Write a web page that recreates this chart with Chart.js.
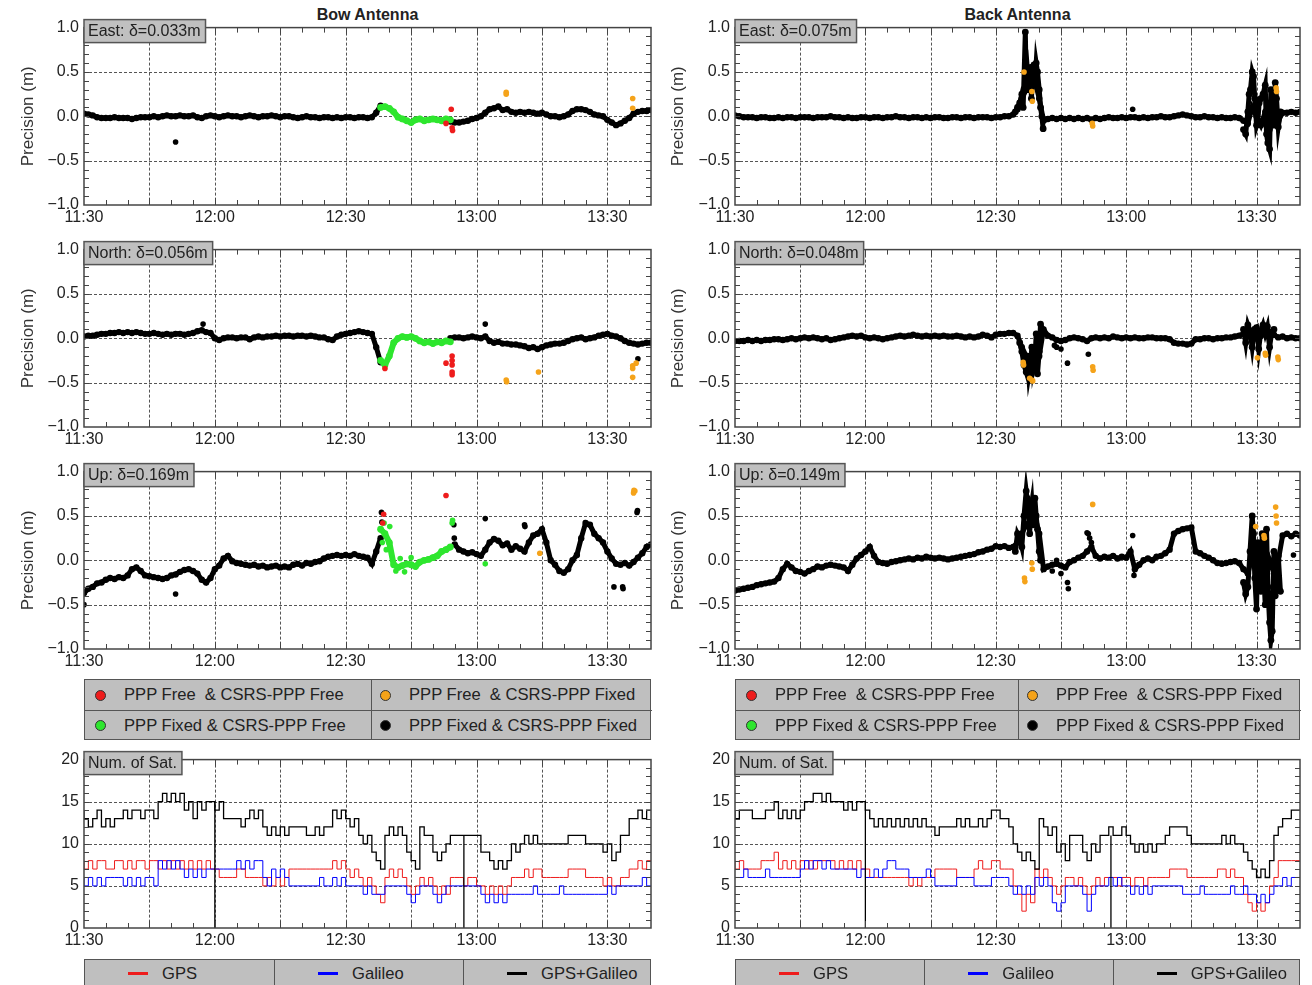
<!DOCTYPE html>
<html>
<head>
<meta charset="utf-8">
<script src="https://cdn.jsdelivr.net/npm/chart.js@4.4.1/dist/chart.umd.min.js"></script>
<style>
  body { margin: 0; width: 1312px; height: 985px; overflow: hidden; position: relative; background: #fff;
         font-family: "Liberation Sans", Arial, sans-serif; color: #222; }
  canvas { position: absolute; }
  .title { position: absolute; top: 6px; font-size: 16px; font-weight: bold; text-align: center; line-height: 18px; }
  .legend { position: absolute; background: #bfbfbf; border: 1.5px solid #555; box-sizing: border-box; }
  .cell { position: absolute; box-sizing: border-box; font-size: 16.6px; white-space: pre; display: flex; align-items: center; }
  .dot { width: 11px; height: 11px; border-radius: 50%; border: 1px solid #333; box-sizing: border-box; margin-right: 18px; }
  .swatch { width: 20px; height: 3px; margin-right: 14px; }
</style>
</head>
<body>
<div class="title" style="left:84px;width:567px">Bow Antenna</div>
<div class="title" style="left:735px;width:565px">Back Antenna</div>
<script>
// time axis: minutes after 11:30
const minutes = Array.from({ length: 131 }, (_, i) => i);
const labelMinutes = [0, 30, 60, 90, 120];
const timeLabels = ["11:30", "12:00", "12:30", "13:00", "13:30"];
const gridMinutes = [15, 30, 45, 60, 75, 90, 105, 120];
const precisionGrid = [-0.5, 0, 0.5];
const satGrid = [5, 10, 15];

const pointCategories = ["PPP Free  & CSRS-PPP Free", "PPP Free  & CSRS-PPP Fixed", "PPP Fixed & CSRS-PPP Free", "PPP Fixed & CSRS-PPP Fixed"];
const satCategories = ["GPS", "Galileo", "GPS+Galileo"];

// ---- Bow antenna ----
const greenMinutes = [68, 69, 70, 71, 72, 73, 74, 75, 76, 77, 78, 79, 80, 81, 82, 83, 84];

const bowEastFixed = [
  0.03, 0.02, 0.01, -0.01, -0.02, -0.02, -0.02, -0.01, -0.02, -0.02,
  -0.02, -0.03, -0.02, -0.01, -0.01, -0.01, 0.00, -0.01, 0.00, 0.01,
  0.00, 0.00, 0.01, 0.00, 0.00, 0.01, -0.01, -0.02, 0.00, 0.01,
  0.00, -0.01, 0.00, 0.01, 0.00, 0.00, -0.01, 0.00, 0.01, 0.00,
  -0.01, 0.00, 0.00, 0.01, 0.00, -0.01, 0.00, 0.00, -0.01, -0.02,
  -0.01, 0.00, -0.01, -0.01, -0.02, -0.01, -0.01, -0.02, -0.01, -0.02,
  -0.01, -0.01, -0.02, -0.01, -0.01, -0.02, -0.01, 0.04, 0.12, null,
  null, null, null, null, null, null, null, null, null, null,
  null, null, null, null, -0.06, -0.07, -0.07, -0.06, -0.05, -0.03,
  -0.02, 0.00, 0.04, 0.08, 0.09, 0.11, 0.07, 0.08, 0.05, 0.04,
  0.05, 0.04, 0.05, 0.04, 0.03, 0.04, 0.02, 0.00, 0.00, -0.01,
  0.00, 0.02, 0.06, 0.08, 0.08, 0.07, 0.05, 0.02, 0.01, 0.00,
  -0.04, -0.07, -0.10, -0.08, -0.05, -0.02, 0.03, 0.05, 0.06, 0.06,
  0.07
];
const bowEastGreen = [0.10, 0.11, 0.09, 0.05, -0.01, -0.03, -0.05, -0.07, -0.04, -0.03, -0.05, -0.04, -0.03, -0.04, -0.05, -0.03, -0.04];
const bowEastRedT = [83, 84.2, 84.4, 84.5];
const bowEastRedY = [-0.08, 0.08, -0.13, -0.16];
const bowEastOrangeT = [96.8, 96.8, 125.8, 125.8];
const bowEastOrangeY = [0.27, 0.25, 0.20, 0.09];
const bowEastSingleT = [21];
const bowEastSingleY = [-0.29];

const bowNorthFixed = [
  0.02, 0.03, 0.03, 0.04, 0.05, 0.05, 0.06, 0.06, 0.07, 0.06,
  0.07, 0.06, 0.07, 0.06, 0.05, 0.05, 0.06, 0.05, 0.04, 0.05,
  0.04, 0.05, 0.05, 0.04, 0.05, 0.06, 0.08, 0.09, 0.07, 0.06,
  0.00, -0.02, 0.00, 0.01, 0.01, 0.00, 0.01, 0.01, -0.01, 0.01,
  0.02, 0.01, 0.02, 0.02, 0.03, 0.02, 0.03, 0.03, 0.02, 0.03,
  0.03, 0.02, 0.03, 0.02, 0.01, 0.01, -0.01, -0.02, 0.02, 0.04,
  0.05, 0.06, 0.07, 0.08, 0.07, 0.06, 0.05, -0.10, -0.27, null,
  null, null, null, null, null, null, null, null, null, null,
  null, null, null, null, 0.00, 0.01, 0.01, 0.00, 0.01, 0.02,
  0.01, 0.00, 0.02, -0.03, -0.05, -0.04, -0.06, -0.06, -0.07, -0.07,
  -0.08, -0.09, -0.11, -0.10, -0.12, -0.10, -0.08, -0.07, -0.06, -0.06,
  -0.05, -0.03, -0.01, 0.00, 0.01, -0.01, 0.00, 0.01, 0.03, 0.04,
  0.05, 0.03, 0.02, 0.00, -0.03, -0.05, -0.06, -0.07, -0.06, -0.05,
  -0.05
];
const bowNorthGreen = [-0.25, -0.30, -0.20, -0.05, 0.00, 0.02, 0.01, 0.02, 0.00, -0.03, -0.05, -0.04, -0.06, -0.04, -0.05, -0.03, -0.04];
const bowNorthRedT = [69, 83, 84.4, 84.4, 84.4, 84.4, 84.4];
const bowNorthRedY = [-0.34, -0.28, -0.20, -0.25, -0.30, -0.38, -0.41];
const bowNorthOrangeT = [96.8, 96.9, 104.2, 125.8, 125.8, 125.8, 126.6];
const bowNorthOrangeY = [-0.47, -0.49, -0.38, -0.31, -0.34, -0.44, -0.28];
const bowNorthSingleT = [27.3, 92, 127];
const bowNorthSingleY = [0.16, 0.16, -0.23];

const bowUpFixed = [
  -0.37, -0.32, -0.30, -0.26, -0.25, -0.22, -0.20, -0.21, -0.19, -0.20,
  -0.17, -0.10, -0.08, -0.12, -0.17, -0.18, -0.19, -0.20, -0.21, -0.20,
  -0.17, -0.16, -0.13, -0.11, -0.10, -0.12, -0.15, -0.22, -0.25, -0.20,
  -0.10, -0.06, 0.02, 0.05, -0.01, -0.03, -0.04, -0.05, -0.06, -0.05,
  -0.07, -0.06, -0.08, -0.07, -0.06, -0.08, -0.07, -0.08, -0.05, -0.04,
  -0.06, -0.03, -0.04, -0.02, -0.01, 0.02, 0.04, 0.05, 0.06, 0.05,
  0.06, 0.05, 0.07, 0.05, 0.04, 0.03, -0.04, 0.10, 0.25, null,
  null, null, null, null, null, null, null, null, null, null,
  null, null, null, null, null, 0.18, 0.12, 0.10, 0.08, 0.09,
  0.07, 0.05, 0.12, 0.20, 0.24, 0.22, 0.17, 0.19, 0.12, 0.16,
  0.13, 0.10, 0.20, 0.28, 0.30, 0.35, 0.20, 0.00, -0.05, -0.12,
  -0.14, -0.10, 0.00, 0.06, 0.25, 0.42, 0.40, 0.30, 0.25, 0.20,
  0.10, 0.02, -0.04, -0.05, -0.03, -0.06, -0.02, 0.03, 0.08, 0.15,
  0.18
];
const bowUpGreen = [0.35, 0.30, 0.20, -0.05, -0.08, -0.06, -0.04, -0.05, -0.07, -0.02, 0.00, 0.01, 0.03, 0.05, 0.10, 0.12, 0.15];
const bowUpGreenExtraT = [68.4, 68.8, 69.3, 70.1, 71.5, 72.5, 73.5, 75, 84.4, 84.5, 92];
const bowUpGreenExtraY = [0.20, 0.42, 0.12, 0.38, -0.12, 0.02, -0.13, 0.03, 0.42, 0.45, -0.04];
const bowUpRedT = [68.5, 68.7, 83];
const bowUpRedY = [0.42, 0.52, 0.73];
const bowUpOrangeT = [104.5, 126, 126.1, 126.3];
const bowUpOrangeY = [0.08, 0.76, 0.79, 0.78];
const bowUpSingleT = [0, 21, 68.2, 68.3, 84.8, 84.9, 92, 101, 101.1, 121.5, 123.5, 123.6, 126.8, 126.9];
const bowUpSingleY = [-0.50, -0.38, 0.54, 0.43, 0.40, 0.25, 0.47, 0.40, 0.38, -0.30, -0.30, -0.32, 0.54, 0.56];

// ---- Back antenna ----
const backEastFixed = [
  0.01, 0.00, -0.01, -0.01, -0.01, -0.02, -0.01, -0.01, -0.02, -0.02,
  -0.01, -0.02, -0.01, -0.01, -0.02, -0.01, -0.01, -0.01, -0.02, -0.01,
  -0.01, -0.01, 0.00, -0.01, -0.01, -0.02, -0.01, -0.02, -0.02, -0.01,
  -0.01, -0.02, -0.01, -0.01, -0.02, -0.01, -0.01, 0.00, -0.01, -0.01,
  -0.02, -0.01, -0.01, -0.02, -0.01, -0.02, -0.01, -0.01, -0.02, -0.02,
  -0.01, -0.01, -0.02, -0.01, -0.01, -0.02, -0.01, -0.01, -0.01, -0.02,
  -0.01, -0.01, 0.00, 0.00, 0.02, 0.08, 0.20, 0.30, 0.35, 0.40,
  0.20, -0.05, -0.03, -0.02, -0.03, -0.02, -0.03, -0.02, -0.03, -0.02,
  -0.03, -0.02, -0.04, -0.02, -0.03, -0.02, -0.01, -0.02, -0.02, -0.01,
  -0.02, -0.01, -0.01, -0.02, -0.01, -0.02, -0.01, -0.01, 0.00, -0.01,
  -0.01, 0.00, 0.01, 0.02, 0.01, 0.00, -0.01, -0.01, 0.00, -0.01,
  -0.01, -0.02, -0.01, -0.02, -0.02, -0.01, -0.02, -0.05, -0.08, 0.10,
  0.00, -0.10, 0.05, -0.15, 0.00, -0.05, 0.04, 0.04, 0.05, 0.04,
  0.05
];
const backEastBurstT = [64.5, 65, 65.5, 66, 66.3, 66.8, 67, 67.3, 67.6, 68, 68.2, 68.5, 68.8, 69, 69.3, 69.6, 70, 70.3, 70.6, 70.9, 71,
  117, 117.5, 118, 118.3, 118.6, 119, 119.3, 119.6, 120, 120.3, 120.6, 121, 121.5, 122, 122.3, 122.6, 123, 123.3, 123.6, 124, 124.3, 124.6, 125, 125.5];
const backEastBurstY = [0.05, 0.10, 0.15, 0.25, 0.10, 0.95, 0.40, 0.50, 0.30, 0.55, 0.20, 0.45, 0.58, 0.35, 0.60, 0.50, 0.30, 0.10, 0.00, -0.14, null,
  -0.15, -0.20, 0.05, 0.25, 0.30, 0.50, 0.45, 0.20, -0.10, -0.05, 0.15, 0.20, 0.25, 0.35, -0.20, -0.30, -0.37, 0.30, 0.10, -0.10, 0.38, 0.20, -0.12, 0.05];
const backEastSingleT = [91.5];
const backEastSingleY = [0.08];
const backEastOrangeT = [66.5, 68.3, 68.4, 82.2, 82.3, 124.5, 124.6];
const backEastOrangeY = [0.50, 0.28, 0.17, -0.08, -0.11, 0.32, 0.28];

const backNorthFixed = [
  -0.03, -0.03, -0.03, -0.02, -0.03, -0.02, -0.03, -0.02, -0.02, -0.01,
  -0.01, -0.02, -0.01, 0.00, -0.01, 0.00, 0.01, 0.00, 0.01, 0.00,
  -0.01, 0.00, -0.02, -0.01, 0.00, 0.01, 0.02, 0.03, 0.02, 0.03,
  0.01, 0.00, 0.01, 0.00, -0.01, 0.00, 0.01, 0.02, 0.03, 0.02,
  0.03, 0.04, 0.03, 0.02, 0.03, 0.02, 0.03, 0.02, 0.03, 0.02,
  0.02, 0.03, 0.02, 0.01, 0.02, 0.01, 0.02, 0.04, 0.03, 0.01,
  0.04, 0.05, 0.05, 0.06, 0.06, 0.03, -0.10, -0.20, -0.25, -0.15,
  -0.20, 0.10, 0.03, 0.01, -0.02, -0.03, -0.02, 0.00, 0.01, 0.00,
  -0.01, -0.03, 0.00, 0.01, 0.00, 0.01, 0.00, 0.02, 0.01, 0.00,
  0.01, 0.00, 0.01, 0.00, 0.00, 0.01, 0.01, 0.00, 0.00, 0.00,
  -0.01, -0.05, -0.06, -0.06, -0.07, -0.06, -0.01, -0.01, 0.00, 0.00,
  -0.01, 0.00, 0.00, 0.01, 0.01, 0.02, 0.03, 0.05, 0.05, 0.06,
  0.04, 0.03, 0.05, 0.02, 0.04, 0.01, 0.02, 0.00, 0.01, 0.00,
  0.00
];
const backNorthBurstT = [65.5, 66, 66.5, 67, 67.3, 67.6, 68, 68.3, 68.6, 69, 69.3, 69.6, 70, 70.3, 70.5,
  117, 117.5, 118, 118.5, 119, 119.5, 120, 120.5, 121, 121.5, 122, 122.5, 123, 123.5, 124];
const backNorthBurstY = [-0.05, -0.15, -0.30, -0.38, -0.20, -0.42, -0.30, -0.10, -0.35, -0.25, 0.05, -0.40, -0.15, 0.16, null,
  0.10, -0.05, 0.15, 0.08, -0.10, 0.10, 0.12, -0.12, 0.08, 0.15, 0.05, 0.13, -0.10, 0.07, 0.10];
const backNorthSingleT = [73.5, 74, 75, 76.5, 81.3];
const backNorthSingleY = [-0.08, -0.10, -0.12, -0.28, -0.18];
const backNorthOrangeT = [66.3, 66.4, 67.8, 68.3, 68.5, 82.3, 82.4, 120.2, 122, 122.1, 124.9, 125];
const backNorthOrangeY = [-0.27, -0.30, -0.45, -0.47, -0.48, -0.32, -0.36, -0.22, -0.17, -0.19, -0.21, -0.24];

const backUpFixed = [
  -0.34, -0.33, -0.32, -0.31, -0.30, -0.28, -0.27, -0.26, -0.25, -0.24,
  -0.20, -0.10, -0.04, -0.08, -0.12, -0.13, -0.15, -0.12, -0.10, -0.07,
  -0.08, -0.06, -0.05, -0.06, -0.07, -0.08, -0.12, -0.05, 0.02, 0.06,
  0.10, 0.15, 0.05, -0.02, -0.03, -0.04, -0.02, -0.01, 0.00, 0.01,
  0.02, 0.01, 0.03, 0.02, 0.04, 0.03, 0.02, 0.03, 0.02, 0.01,
  0.02, 0.03, 0.04, 0.05, 0.06, 0.07, 0.09, 0.10, 0.12, 0.13,
  0.16, 0.15, 0.16, 0.14, 0.15, 0.20, 0.30, 0.40, 0.45, 0.50,
  0.30, -0.10, -0.07, -0.05, -0.04, -0.06, -0.08, -0.02, 0.00, 0.03,
  0.05, 0.10, 0.15, 0.05, 0.02, 0.04, 0.03, 0.05, 0.02, 0.04,
  0.03, 0.10, -0.10, -0.05, 0.00, 0.02, 0.00, 0.04, 0.05, 0.08,
  0.12, 0.30, 0.33, 0.35, 0.36, 0.37, 0.10, 0.08, 0.05, 0.03,
  0.00, -0.03, -0.04, -0.03, -0.02, -0.01, -0.03, -0.10, -0.15, 0.05,
  -0.10, 0.10, -0.20, 0.00, -0.15, 0.00, 0.28, 0.30, 0.27, 0.30,
  0.28
];
const backUpBurstT = [64.5, 65, 65.5, 66, 66.5, 67, 67.2, 67.5, 67.8, 68, 68.3, 68.6, 69, 69.3, 69.6, 70, 70.3, 70.5,
  117, 117.5, 118, 118.5, 119, 119.3, 119.6, 120, 120.3, 120.6, 121, 121.3, 121.6, 122, 122.3, 122.6, 123, 123.3, 123.6, 124, 124.3, 124.6, 125, 125.5];
const backUpBurstY = [0.10, 0.30, 0.25, 0.15, 0.50, 0.78, 0.70, 0.60, 0.30, 0.55, 0.65, 0.40, 0.70, 0.50, 0.35, 0.10, 0.00, null,
  -0.25, -0.38, -0.30, 0.10, 0.50, 0.30, -0.20, -0.55, 0.20, 0.05, -0.35, 0.30, -0.10, -0.50, 0.35, -0.30, -0.70, -0.90, -0.80, 0.10, -0.40, -0.20, 0.05, -0.35];
const backUpSingleT = [73, 74, 75, 76.5, 76.7, 81, 81.3, 81.6, 82, 91.5, 91.8, 128.5];
const backUpSingleY = [-0.12, 0.00, -0.15, -0.25, -0.32, 0.31, 0.30, 0.25, 0.20, 0.28, -0.17, 0.06];
const backUpOrangeT = [66.6, 66.7, 68.3, 68.4, 82.3, 119.8, 121.7, 121.8, 124.4, 124.5, 124.6];
const backUpOrangeY = [-0.20, -0.24, -0.03, -0.10, 0.63, 0.38, 0.28, 0.25, 0.60, 0.50, 0.42];

// ---- number of satellites ----
const bowAll = [
  14, 13, 12, 13, 14, 12, 13, 12, 13, 13,
  14, 13, 14, 14, 13, 14, 14, 13, 15, 16,
  15, 16, 15, 16, 14, 15, 13, 15, 14, 15,
  15, 14, 15, 13, 13, 13, 13, 12, 13, 14,
  13, 14, 12, 11, 12, 11, 12, 11, 12, 12,
  12, 12, 11, 11, 12, 11, 12, 12, 14, 13,
  14, 13, 12, 13, 11, 10, 11, 9, 8, 7,
  11, 12, 11, 12, 11, 9, 8, 7, 12, 11,
  11, 9, 8, 9, 10, 11, 11, 11, 11, 11,
  11, 11, 9, 9, 8, 7, 8, 7, 8, 10,
  9, 10, 11, 10, 11, 10, 10, 10, 10, 10,
  10, 10, 11, 11, 11, 11, 10, 10, 10, 10,
  9, 10, 8, 9, 11, 11, 13, 13, 14, 13,
  14
];
const bowGps = [
  8, 7, 8, 7, 8, 8, 7, 7, 8, 8,
  7, 8, 7, 8, 8, 7, 8, 8, 7, 8,
  7, 8, 7, 8, 7, 8, 7, 8, 7, 8,
  7, 7, 6, 6, 6, 6, 7, 7, 6, 6,
  6, 6, 5, 6, 5, 6, 5, 6, 7, 7,
  7, 7, 7, 7, 7, 7, 7, 7, 8, 7,
  8, 7, 6, 7, 6, 5, 6, 5, 4, 3,
  6, 7, 6, 7, 6, 5, 4, 5, 6, 5,
  6, 5, 4, 5, 4, 6, 6, 6, 5, 6,
  6, 5, 5, 4, 5, 4, 5, 4, 5, 6,
  6, 6, 7, 6, 7, 7, 6, 6, 6, 6,
  6, 6, 7, 7, 7, 7, 6, 6, 6, 6,
  5, 6, 5, 5, 6, 6, 7, 7, 8, 7,
  8
];
const bowGal = [
  6, 5, 6, 5, 6, 5, 6, 6, 6, 6,
  5, 6, 5, 6, 5, 6, 6, 5, 8, 7,
  8, 7, 8, 7, 6, 7, 6, 7, 6, 7,
  7, 7, 7, 7, 7, 7, 8, 7, 8, 7,
  8, 8, 6, 5, 7, 6, 7, 6, 5, 5,
  5, 5, 5, 5, 5, 6, 5, 5, 6, 5,
  6, 5, 5, 5, 5, 4, 5, 4, 4, 4,
  5, 5, 5, 5, 5, 4, 3, 4, 5, 5,
  5, 4, 3, 4, 5, 5, 5, 5, 5, 5,
  5, 5, 4, 3, 4, 3, 4, 3, 4, 4,
  4, 4, 4, 4, 5, 4, 4, 4, 4, 4,
  5, 4, 4, 4, 4, 4, 4, 4, 4, 4,
  4, 5, 4, 5, 5, 5, 5, 5, 5, 6,
  5
];
const bowDropT = [30, 87.1];

const backAll = [
  14, 13, 14, 14, 14, 13, 13, 13, 14, 14,
  15, 13, 14, 13, 14, 13, 14, 15, 15, 16,
  16, 15, 16, 15, 15, 15, 14, 15, 14, 15,
  15, 14, 13, 12, 13, 12, 13, 12, 13, 12,
  13, 12, 13, 12, 13, 12, 12, 11, 12, 12,
  12, 12, 13, 12, 13, 12, 12, 13, 12, 13,
  14, 14, 13, 13, 12, 10, 9, 8, 9, 8,
  7, 13, 12, 11, 12, 9, 10, 8, 11, 11,
  11, 9, 8, 10, 9, 11, 11, 12, 11, 11,
  12, 11, 10, 9, 10, 9, 10, 9, 10, 10,
  11, 12, 12, 12, 12, 11, 10, 10, 10, 10,
  10, 10, 10, 11, 10, 11, 10, 10, 9, 8,
  7, 6, 7, 6, 8, 11, 12, 13, 13, 14,
  14
];
const backGps = [
  8, 7, 8, 7, 7, 7, 7, 8, 8, 8,
  9, 7, 8, 7, 8, 7, 8, 7, 8, 7,
  8, 8, 8, 8, 7, 8, 7, 8, 7, 8,
  7, 7, 6, 6, 6, 6, 6, 6, 6, 6,
  6, 5, 6, 5, 6, 6, 6, 7, 7, 7,
  7, 7, 6, 6, 6, 6, 7, 8, 7, 7,
  8, 8, 7, 7, 7, 5, 4, 2, 4, 3,
  7, 6, 7, 6, 5, 4, 5, 6, 6, 5,
  6, 5, 4, 5, 6, 5, 6, 6, 6, 5,
  6, 6, 5, 6, 6, 5, 6, 6, 6, 6,
  6, 7, 7, 7, 7, 6, 6, 6, 6, 6,
  6, 6, 7, 7, 6, 7, 6, 6, 4, 3,
  2, 3, 2, 3, 5, 6, 8, 8, 8, 8,
  8
];
const backGal = [
  6, 6, 6, 7, 6, 6, 6, 6, 7, 6,
  6, 6, 6, 6, 6, 6, 7, 8, 7, 8,
  8, 7, 8, 7, 7, 7, 7, 7, 7, 6,
  7, 6, 6, 7, 6, 7, 8, 8, 7, 7,
  7, 6, 6, 6, 6, 7, 6, 5, 5, 5,
  5, 5, 6, 6, 6, 6, 5, 5, 5, 5,
  6, 6, 6, 6, 5, 4, 5, 4, 5, 4,
  6, 5, 6, 5, 3, 2, 3, 5, 5, 5,
  5, 4, 2, 4, 5, 5, 5, 6, 5, 6,
  5, 5, 4, 5, 4, 5, 4, 5, 5, 5,
  5, 5, 5, 5, 4, 4, 4, 4, 5, 4,
  4, 4, 4, 4, 4, 5, 4, 4, 5, 4,
  4, 3, 4, 3, 4, 5, 5, 6, 5, 6,
  6
];
const backDropT = [30, 86.5];

const RED = "#ee1c1c", GREEN = "#2ee62e", ORANGE = "#f5a31a", BLACK = "#000000", BLUE = "#0000ff";
const pointColors = [RED, ORANGE, GREEN, BLACK];
const satColors = [RED, BLUE, BLACK];

Chart.defaults.font.family = '"Liberation Sans", Arial, sans-serif';
Chart.defaults.color = "#222";

function dots(ts, ys) {
  return ts.map((t, i) => ({ x: t, y: ys[i] }));
}

function bandSet(data, color, width, radius) {
  return { data, borderColor: color, backgroundColor: color, borderWidth: width, pointRadius: radius,
           pointBorderWidth: 0, pointBackgroundColor: color, spanGaps: false, tension: 0 };
}

function dotSet(data, color) {
  return { data, showLine: false, pointRadius: 2.8, pointBorderWidth: 0,
           pointBackgroundColor: color, borderColor: color };
}

function stepSet(data, color, width) {
  return { data, borderColor: color, borderWidth: width, pointRadius: 0, stepped: "after", tension: 0 };
}

// grid, inward ticks, frame and the grey label box
const framePlugin = {
  id: "frame",
  beforeDatasetsDraw(chart, args, o) {
    const { ctx, chartArea: a } = chart;
    const x = chart.scales.x, y = chart.scales.y;
    ctx.save();
    ctx.strokeStyle = "#555";
    ctx.lineWidth = 1;
    ctx.setLineDash([3, 2]);
    ctx.beginPath();
    gridMinutes.forEach((t) => {
      const px = Math.round(x.getPixelForValue(t)) + 0.5;
      ctx.moveTo(px, a.top);
      ctx.lineTo(px, a.bottom);
    });
    o.yGrid.forEach((v) => {
      const py = Math.round(y.getPixelForValue(v)) + 0.5;
      ctx.moveTo(a.left, py);
      ctx.lineTo(a.right, py);
    });
    ctx.stroke();
    ctx.restore();
  },
  afterDatasetsDraw(chart, args, o) {
    const { ctx, chartArea: a } = chart;
    const x = chart.scales.x, y = chart.scales.y;
    ctx.save();
    ctx.strokeStyle = "#444";
    ctx.lineWidth = 1;
    ctx.beginPath();
    for (let t = 5; t < 130; t += 5) {
      const px = Math.round(x.getPixelForValue(t)) + 0.5;
      const len = t % 15 === 0 ? 7 : 5;
      ctx.moveTo(px, a.top);
      ctx.lineTo(px, a.top + len);
      ctx.moveTo(px, a.bottom);
      ctx.lineTo(px, a.bottom - len);
    }
    const steps = Math.round((o.yMax - o.yMin) / o.yMinor);
    for (let k = 1; k < steps; k++) {
      const v = o.yMin + k * o.yMinor;
      const py = Math.round(y.getPixelForValue(v)) + 0.5;
      ctx.moveTo(a.left, py);
      ctx.lineTo(a.left + 5, py);
      ctx.moveTo(a.right, py);
      ctx.lineTo(a.right - 5, py);
    }
    ctx.stroke();

    ctx.lineWidth = 1.5;
    ctx.strokeStyle = "#444";
    ctx.strokeRect(a.left, a.top, a.right - a.left, a.bottom - a.top);

    ctx.font = '16px "Liberation Sans", Arial, sans-serif';
    const w = ctx.measureText(o.label).width + 9;
    ctx.fillStyle = "#c0c0c0";
    ctx.fillRect(a.left, a.top - 8, w, 23);
    ctx.strokeStyle = "#555";
    ctx.strokeRect(a.left, a.top - 8, w, 23);
    ctx.fillStyle = "#222";
    ctx.textBaseline = "middle";
    ctx.fillText(o.label, a.left + 4, a.top + 4);
    ctx.restore();
  },
};

function chartOptions(kind, label, yWidth, padRight) {
  const prec = kind === "prec";
  return {
    responsive: false,
    maintainAspectRatio: false,
    animation: false,
    devicePixelRatio: 1,
    events: [],
    layout: { padding: { top: 14, right: padRight, left: 0, bottom: 0 } },
    plugins: {
      legend: { display: false },
      tooltip: { enabled: false },
      frame: prec
        ? { label, yGrid: precisionGrid, yMin: -1, yMax: 1, yMinor: 0.1 }
        : { label, yGrid: satGrid, yMin: 0, yMax: 20, yMinor: 1 },
    },
    scales: {
      x: {
        type: "linear", min: 0, max: 130,
        grid: { display: false, drawTicks: false },
        border: { display: false },
        ticks: {
          stepSize: 30, autoSkip: false, maxRotation: 0, includeBounds: false, padding: 3,
          font: { size: 16 }, color: "#222",
          callback: (v) => timeLabels[labelMinutes.indexOf(v)] ?? "",
        },
        afterFit: (s) => { s.height = 26; },
      },
      y: {
        min: prec ? -1 : 0, max: prec ? 1 : 20,
        grid: { display: false, drawTicks: false },
        border: { display: false },
        ticks: {
          stepSize: prec ? 0.5 : 5, padding: 5, font: { size: 16 }, color: "#222",
          callback: (v) => {
            if (!prec) return String(Math.round(v));
            const r = Math.round(v * 10) / 10;
            return (r < 0 ? "\u2212" : "") + Math.abs(r).toFixed(1);
          },
        },
        title: { display: prec, text: "Precision (m)", font: { size: 17 }, color: "#333", padding: { top: 18, bottom: 0 } },
        afterFit: (s) => { s.width = yWidth; },
      },
    },
  };
}

function makeCanvas(left, top, width, height) {
  const c = document.createElement("canvas");
  c.width = width;
  c.height = height;
  c.style.left = left + "px";
  c.style.top = top + "px";
  document.body.appendChild(c);
  return c;
}

function precisionPanel(col, plotTop, label, p) {
  const sets = [dotSet(dots(p.orangeT, p.orangeY), ORANGE)];
  if (p.redT) sets.push(dotSet(dots(p.redT, p.redY), RED));
  if (p.greenExtraT) sets.push(dotSet(dots(p.greenExtraT, p.greenExtraY), GREEN));
  if (p.green) sets.push(bandSet(dots(greenMinutes, p.green), GREEN, 6, 3.4));
  sets.push(dotSet(dots(p.singleT, p.singleY), BLACK));
  if (p.burstT) sets.push(bandSet(dots(p.burstT, p.burstY), BLACK, 5, 3.4));
  sets.push(bandSet(dots(minutes, p.fixed), BLACK, 5, 3.2));
  const canvas = makeCanvas(col.left, plotTop - 14, 662, 218);
  new Chart(canvas, {
    type: "line",
    data: { datasets: sets },
    options: chartOptions("prec", label, col.yWidth, col.padRight),
    plugins: [framePlugin],
  });
}

function satPanel(col, plotTop, all, gps, gal, dropT) {
  const sets = dropT.map((t) => ({
    data: [{ x: t, y: all[Math.floor(t)] }, { x: t, y: 0 }],
    borderColor: BLACK, borderWidth: 1.3, pointRadius: 0,
  }));
  sets.push(stepSet(dots(minutes, all), BLACK, 1.3));
  sets.push(stepSet(dots(minutes, gal), BLUE, 1));
  sets.push(stepSet(dots(minutes, gps), RED, 1));
  const canvas = makeCanvas(col.left, plotTop - 14, 662, 209);
  new Chart(canvas, {
    type: "line",
    data: { datasets: sets },
    options: chartOptions("sat", "Num. of Sat.", col.yWidth, col.padRight),
    plugins: [framePlugin],
  });
}

function pointLegend(left, top, width, split) {
  const box = document.createElement("div");
  box.className = "legend";
  box.style.cssText = `left:${left}px;top:${top}px;width:${width}px;height:61px`;
  pointCategories.forEach((name, i) => {
    const cell = document.createElement("div");
    cell.className = "cell";
    const colIdx = i % 2, rowIdx = Math.floor(i / 2);
    cell.style.cssText = `left:${colIdx ? split : 0}px;top:${rowIdx * 30}px;width:${colIdx ? width - split : split}px;height:30px;` +
      `padding-left:${colIdx ? 8 : 10}px;` + (colIdx ? "border-left:1.5px solid #555;" : "") + (rowIdx ? "border-top:1.5px solid #555;" : "");
    cell.innerHTML = `<span class="dot" style="background:${pointColors[i]}"></span>${name.replace("&", "&amp;")}`;
    box.appendChild(cell);
  });
  document.body.appendChild(box);
}

function satLegend(left, top, width) {
  const box = document.createElement("div");
  box.className = "legend";
  box.style.cssText = `left:${left}px;top:${top}px;width:${width}px;height:30px`;
  const cw = width / 3;
  satCategories.forEach((name, i) => {
    const cell = document.createElement("div");
    cell.className = "cell";
    cell.style.cssText = `left:${i * cw}px;top:0;width:${cw}px;height:27px;padding-left:43px;` + (i ? "border-left:1.5px solid #555;" : "");
    cell.innerHTML = `<span class="swatch" style="background:${satColors[i]}"></span>${name}`;
    box.appendChild(cell);
  });
  document.body.appendChild(box);
}

const leftCol = { left: 0, yWidth: 84, padRight: 11 };
const rightCol = { left: 650, yWidth: 85, padRight: 12 };
const rowTops = [27, 249, 471];

precisionPanel(leftCol, rowTops[0], "East: \u03b4=0.033m", {
  fixed: bowEastFixed, green: bowEastGreen, redT: bowEastRedT, redY: bowEastRedY,
  orangeT: bowEastOrangeT, orangeY: bowEastOrangeY, singleT: bowEastSingleT, singleY: bowEastSingleY });
precisionPanel(leftCol, rowTops[1], "North: \u03b4=0.056m", {
  fixed: bowNorthFixed, green: bowNorthGreen, redT: bowNorthRedT, redY: bowNorthRedY,
  orangeT: bowNorthOrangeT, orangeY: bowNorthOrangeY, singleT: bowNorthSingleT, singleY: bowNorthSingleY });
precisionPanel(leftCol, rowTops[2], "Up: \u03b4=0.169m", {
  fixed: bowUpFixed, green: bowUpGreen, greenExtraT: bowUpGreenExtraT, greenExtraY: bowUpGreenExtraY,
  redT: bowUpRedT, redY: bowUpRedY, orangeT: bowUpOrangeT, orangeY: bowUpOrangeY,
  singleT: bowUpSingleT, singleY: bowUpSingleY });

precisionPanel(rightCol, rowTops[0], "East: \u03b4=0.075m", {
  fixed: backEastFixed, burstT: backEastBurstT, burstY: backEastBurstY,
  orangeT: backEastOrangeT, orangeY: backEastOrangeY, singleT: backEastSingleT, singleY: backEastSingleY });
precisionPanel(rightCol, rowTops[1], "North: \u03b4=0.048m", {
  fixed: backNorthFixed, burstT: backNorthBurstT, burstY: backNorthBurstY,
  orangeT: backNorthOrangeT, orangeY: backNorthOrangeY, singleT: backNorthSingleT, singleY: backNorthSingleY });
precisionPanel(rightCol, rowTops[2], "Up: \u03b4=0.149m", {
  fixed: backUpFixed, burstT: backUpBurstT, burstY: backUpBurstY,
  orangeT: backUpOrangeT, orangeY: backUpOrangeY, singleT: backUpSingleT, singleY: backUpSingleY });

pointLegend(84, 679, 567, 286);
pointLegend(735, 679, 565, 282);

satPanel(leftCol, 759, bowAll, bowGps, bowGal, bowDropT);
satPanel(rightCol, 759, backAll, backGps, backGal, backDropT);

satLegend(84, 959, 567);
satLegend(735, 959, 565);
</script>
</body>
</html>
